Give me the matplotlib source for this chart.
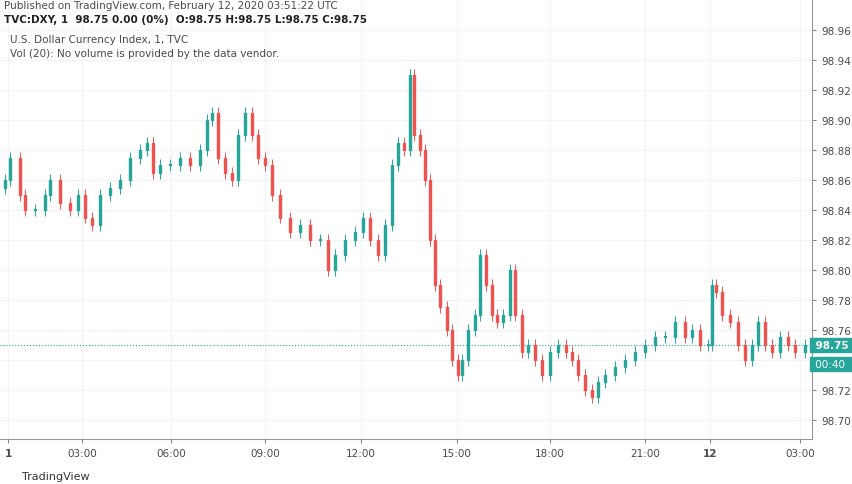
import numpy as np
import matplotlib
matplotlib.use("Agg")
import matplotlib.pyplot as plt
from matplotlib.patches import Rectangle

# ---------- 数据（从图上读取：时间轴位置 / 收盘价） ----------
t_pos = [5, 10, 20, 25, 35, 45, 50, 60, 70, 78, 85, 92, 100, 110, 120, 130, 140, 147, 153, 160,
         170, 180, 190, 200, 207, 212, 218, 225, 232, 238, 245, 252, 258, 265, 272, 280, 290, 300,
         310, 320, 328, 335, 345, 355, 363, 370, 378, 385, 392, 398, 404, 410, 414, 420, 425, 430,
         435, 440, 447, 452, 458, 462, 468, 475, 480, 486, 492, 497, 503, 510, 515, 522, 528, 535,
         542, 550, 558, 566, 572, 578, 585, 592, 598, 605, 615, 625, 635, 645, 655, 665, 675, 685,
         692, 700, 708, 712, 716, 722, 730, 738, 745, 752, 758, 765, 772, 780, 788, 795, 805]
closes = [98.860, 98.875, 98.850, 98.840, 98.840, 98.850, 98.860, 98.845, 98.840, 98.850, 98.835,
          98.830, 98.850, 98.855, 98.860, 98.875, 98.880, 98.885, 98.865, 98.870, 98.870, 98.875,
          98.870, 98.880, 98.900, 98.905, 98.875, 98.865, 98.860, 98.890, 98.905, 98.890, 98.875,
          98.870, 98.850, 98.835, 98.825, 98.830, 98.820, 98.820, 98.800, 98.810, 98.820, 98.825,
          98.835, 98.820, 98.810, 98.830, 98.870, 98.885, 98.880, 98.930, 98.890, 98.880, 98.860,
          98.820, 98.790, 98.775, 98.760, 98.740, 98.730, 98.740, 98.760, 98.770, 98.810, 98.790,
          98.770, 98.765, 98.770, 98.800, 98.770, 98.745, 98.750, 98.740, 98.730, 98.745, 98.750,
          98.745, 98.740, 98.730, 98.720, 98.715, 98.725, 98.730, 98.735, 98.740, 98.745, 98.750,
          98.755, 98.755, 98.765, 98.755, 98.760, 98.750, 98.750, 98.790, 98.785, 98.770, 98.765,
          98.750, 98.740, 98.750, 98.765, 98.750, 98.745, 98.755, 98.750, 98.745, 98.750]
opens = [98.855] + closes[:-1]

tick_pos = [8, 82, 171, 265, 361, 457, 550, 645, 710, 800]
tick_labels = ["1", "03:00", "06:00", "09:00", "12:00", "15:00", "18:00", "21:00", "12", "03:00"]
price_ticks = [98.70, 98.72, 98.74, 98.76, 98.78, 98.80, 98.82, 98.84, 98.86, 98.88,
               98.90, 98.92, 98.94, 98.96]
last_price = 98.75

UP, DN, INK = "#26a69a", "#ef5350", "#4a4a4a"

fig = plt.figure(figsize=(8.52, 4.85), dpi=100)
ax = fig.add_axes([0, 45 / 485, 812 / 852, 440 / 485])
ax.set_xlim(0, 812)
ax.set_ylim(98.6873, 98.9807)

for v in tick_pos:
    ax.axvline(v, color="#f0f3fa", lw=0.8, zorder=0)
for p in price_ticks:
    ax.axhline(p, color="#f0f3fa", lw=0.8, zorder=0)

w = 1.8
for x, o, c in zip(t_pos, opens, closes):
    col = UP if c >= o else DN
    lo, hi = min(o, c), max(o, c)
    ax.vlines(x, lo - 0.004, hi + 0.004, color=col, lw=0.7, zorder=2)
    ax.add_patch(Rectangle((x - w / 2, lo), w, max(hi - lo, 0.0008), color=col, zorder=3))

ax.axhline(last_price, color=UP, lw=0.8, ls=":", zorder=1)

ax.yaxis.tick_right()
ax.set_yticks(price_ticks)
# 98.74 被当前价标签遮住
ax.set_yticklabels(["" if abs(p - 98.74) < 1e-6 else f"{p:.2f}" for p in price_ticks],
                   fontsize=7.5, color=INK)
ax.set_xticks(tick_pos)
ax.set_xticklabels(tick_labels, fontsize=7.5, color=INK)
labs = ax.get_xticklabels()
for i in (0, 8):
    labs[i].set_fontweight("bold")
ax.tick_params(length=3, color="#888888")
for s in ["top", "left"]:
    ax.spines[s].set_visible(False)
for s in ["right", "bottom"]:
    ax.spines[s].set_color("#999999")

ax.text(1.0, last_price, " 98.75 ", transform=ax.get_yaxis_transform(), fontsize=7.5,
        color="white", fontweight="bold", va="center", ha="left",
        bbox=dict(boxstyle="square,pad=0.2", fc=UP, ec=UP))
ax.text(1.0, last_price - 0.0125, " 00:40  ", transform=ax.get_yaxis_transform(), fontsize=7.5,
        color="white", va="center", ha="left",
        bbox=dict(boxstyle="square,pad=0.2", fc=UP, ec=UP))

fig.text(4 / 852, 1 - 6 / 485, "Published on TradingView.com, February 12, 2020 03:51:22 UTC",
         fontsize=7.5, color=INK, va="center")
fig.text(4 / 852, 1 - 20 / 485, "TVC:DXY, 1  98.75 0.00 (0%)  O:98.75 H:98.75 L:98.75 C:98.75",
         fontsize=7.5, color="#222222", fontweight="bold", va="center")
ax.text(10, 98.9807 - 40 / 440 * 0.2934, "U.S. Dollar Currency Index, 1, TVC",
        fontsize=7.5, color=INK, va="center")
ax.text(10, 98.9807 - 54 / 440 * 0.2934, "Vol (20): No volume is provided by the data vendor.",
        fontsize=7.5, color=INK, va="center")
fig.text(22 / 852, 1 - 477 / 485, "TradingView", fontsize=8, color="#333333", va="center")

fig.savefig("out.png", dpi=100)
